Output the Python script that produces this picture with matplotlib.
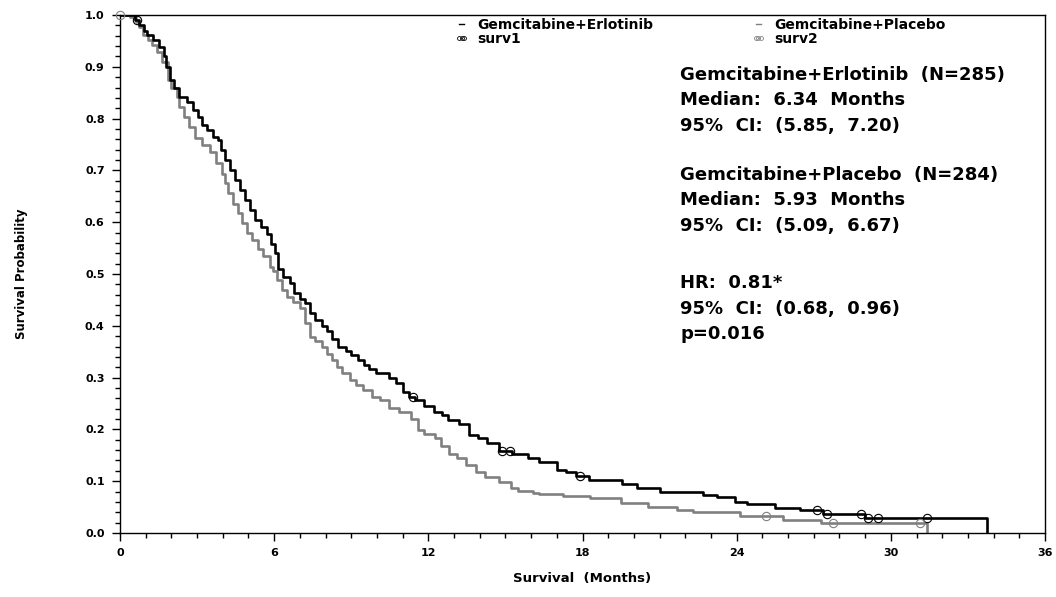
import numpy as np
import matplotlib
matplotlib.use("Agg")
import matplotlib.pyplot as plt
from matplotlib.lines import Line2D
from matplotlib.ticker import MultipleLocator

plt.rcParams['font.family'] = ['DejaVu Sans']
plt.rcParams['font.weight'] = 'bold'

# ---- data: Gemcitabine + Erlotinib (step-post times in months, survival) ----
erl_t = [0.0, 0.58, 0.75, 0.95, 1.05, 1.3, 1.5, 1.7, 1.8, 1.95, 2.1, 2.3, 2.62, 2.85,
         3.05, 3.2, 3.4, 3.6, 3.82, 3.95, 4.1, 4.28, 4.48, 4.68, 4.87, 5.05, 5.26,
         5.5, 5.71, 5.88, 6.03, 6.16, 6.34, 6.62, 6.78, 7.0, 7.2, 7.4, 7.6, 7.85,
         8.05, 8.25, 8.5, 8.8, 9.0, 9.27, 9.5, 9.7, 9.95, 10.45, 10.75, 11.0, 11.25,
         11.5, 11.85, 12.22, 12.55, 12.75, 13.2, 13.58, 13.95, 14.3, 14.75, 15.25,
         15.86, 16.3, 17.0, 17.35, 17.75, 18.25, 19.53, 20.11, 21.0, 22.7, 23.23,
         23.94, 24.39, 25.5, 26.47, 27.37, 29.0, 33.76]
erl_s = [1.0, 0.990, 0.98, 0.97, 0.961, 0.952, 0.939, 0.92, 0.90, 0.875, 0.859, 0.842,
         0.833, 0.817, 0.804, 0.788, 0.778, 0.765, 0.759, 0.74, 0.72, 0.70, 0.681,
         0.662, 0.643, 0.624, 0.604, 0.59, 0.577, 0.558, 0.54, 0.51, 0.495, 0.483,
         0.463, 0.452, 0.444, 0.425, 0.411, 0.40, 0.39, 0.375, 0.36, 0.352, 0.344,
         0.334, 0.325, 0.317, 0.308, 0.299, 0.289, 0.273, 0.263, 0.257, 0.245, 0.234,
         0.228, 0.218, 0.21, 0.189, 0.183, 0.174, 0.158, 0.152, 0.144, 0.138, 0.122,
         0.118, 0.11, 0.102, 0.094, 0.086, 0.08, 0.073, 0.069, 0.06, 0.056, 0.049,
         0.044, 0.036, 0.0296, 0.0]
erl_cens = [0.68, 11.42, 14.86, 15.18, 17.9, 27.12, 27.5, 28.85, 29.1, 29.5, 31.4]

# ---- data: Gemcitabine + Placebo ----
pla_t = [0.0, 0.4, 0.62, 0.75, 0.88, 1.08, 1.25, 1.45, 1.65, 1.85, 2.0, 2.2, 2.3, 2.5,
         2.7, 2.9, 3.2, 3.5, 3.75, 3.96, 4.08, 4.2, 4.4, 4.6, 4.75, 4.93, 5.15, 5.39,
         5.57, 5.84, 5.97, 6.1, 6.29, 6.49, 6.75, 7.0, 7.2, 7.4, 7.6, 7.85, 8.05,
         8.24, 8.45, 8.63, 8.95, 9.2, 9.46, 9.8, 10.12, 10.45, 10.85, 11.33, 11.58,
         11.85, 12.25, 12.5, 12.8, 13.1, 13.45, 13.85, 14.2, 14.75, 15.2, 15.5, 16.08,
         16.3, 17.25, 18.3, 19.5, 20.55, 21.67, 22.3, 24.13, 25.8, 27.3, 31.4]
pla_s = [1.0, 0.997, 0.987, 0.977, 0.961, 0.952, 0.942, 0.929, 0.91, 0.875, 0.86, 0.842,
         0.823, 0.804, 0.784, 0.762, 0.75, 0.735, 0.715, 0.694, 0.675, 0.656, 0.636,
         0.617, 0.598, 0.579, 0.565, 0.548, 0.535, 0.514, 0.505, 0.488, 0.469, 0.456,
         0.445, 0.434, 0.405, 0.379, 0.37, 0.359, 0.345, 0.334, 0.32, 0.309, 0.295,
         0.285, 0.276, 0.262, 0.257, 0.241, 0.234, 0.221, 0.199, 0.192, 0.183, 0.167,
         0.152, 0.145, 0.131, 0.118, 0.109, 0.099, 0.087, 0.082, 0.077, 0.075, 0.071,
         0.067, 0.058, 0.05, 0.045, 0.04, 0.033, 0.026, 0.0187, 0.0]
pla_cens = [0.0, 25.13, 27.75, 31.15]

labels = ["Gemcitabine+Erlotinib", "Gemcitabine+Placebo"]
cens_labels = ["surv1", "surv2"]
annot_lines = [
    "Gemcitabine+Erlotinib  (N=285)",
    "Median:  6.34  Months",
    "95%  CI:  (5.85,  7.20)",
    "Gemcitabine+Placebo  (N=284)",
    "Median:  5.93  Months",
    "95%  CI:  (5.09,  6.67)",
    "HR:  0.81*",
    "95%  CI:  (0.68,  0.96)",
    "p=0.016",
]
annot_y = [0.884, 0.836, 0.786, 0.691, 0.643, 0.593, 0.483, 0.432, 0.384]

xticks = [0, 6, 12, 18, 24, 30, 36]
yticks = [0.0, 0.1, 0.2, 0.3, 0.4, 0.5, 0.6, 0.7, 0.8, 0.9, 1.0]


def step_value(ts, ss, t):
    i = np.searchsorted(np.asarray(ts), t, side='right') - 1
    return np.asarray(ss)[i]


fig = plt.figure(figsize=(10.56, 5.97), dpi=100)
ax = fig.add_axes([120/1056, 1-533/597, 925/1056, 518/597])

black = '#000000'
gray = '#808080'
ax.step(erl_t, erl_s, where='post', color=black, lw=1.9, zorder=3)
ax.step(pla_t, pla_s, where='post', color=gray, lw=1.9, zorder=2)
ax.plot(erl_cens, [step_value(erl_t, erl_s, t) for t in erl_cens], ls='none',
        marker='o', mfc='none', mec=black, ms=6, mew=0.8, zorder=4, clip_on=False)
ax.plot(pla_cens, [step_value(pla_t, pla_s, t) for t in pla_cens], ls='none',
        marker='o', mfc='none', mec=gray, ms=6, mew=0.8, zorder=4, clip_on=False)

ax.set_xlim(0, 36)
ax.set_ylim(0, 1.0)
ax.set_xticks(xticks)
ax.set_xticklabels([str(v) for v in xticks], fontsize=8, fontweight='bold')
ax.set_yticks(yticks)
ax.set_yticklabels([f"{v:.1f}" for v in yticks], fontsize=8, fontweight='bold')
ax.xaxis.set_minor_locator(MultipleLocator(1))
ax.yaxis.set_minor_locator(MultipleLocator(0.02))
ax.tick_params(which='major', length=6, width=1, direction='out', pad=5)
ax.tick_params(which='minor', length=3.5, width=1, direction='out')
for sp in ax.spines.values():
    sp.set_linewidth(1)

ax.set_xlabel("Survival  (Months)", fontsize=9.5, fontweight='bold', labelpad=10)
ax.set_ylabel("Survival Probability", fontsize=8.5, fontweight='bold', labelpad=41)

for txt, yv in zip(annot_lines, annot_y):
    ax.text(21.8, yv, txt, fontsize=13, fontweight='bold', va='center', ha='left')

handles = [Line2D([], [], color=black, lw=1),
           Line2D([], [], ls='none', marker='o', mfc='none', mec=black, ms=2.8, mew=0.6),
           Line2D([], [], color=gray, lw=1),
           Line2D([], [], ls='none', marker='o', mfc='none', mec=gray, ms=2.8, mew=0.6)]
leg_labels = [labels[0], cens_labels[0], labels[1], cens_labels[1]]
ax.legend(handles, leg_labels, ncol=2, loc='upper left',
          bbox_to_anchor=((455-120)/925, 0.995), frameon=False,
          prop={'weight': 'bold', 'size': 10}, numpoints=3, handlelength=0.95,
          handletextpad=0.65, columnspacing=7.1, labelspacing=0.05, borderpad=0,
          borderaxespad=0)

fig.savefig("out.png", dpi=100)
